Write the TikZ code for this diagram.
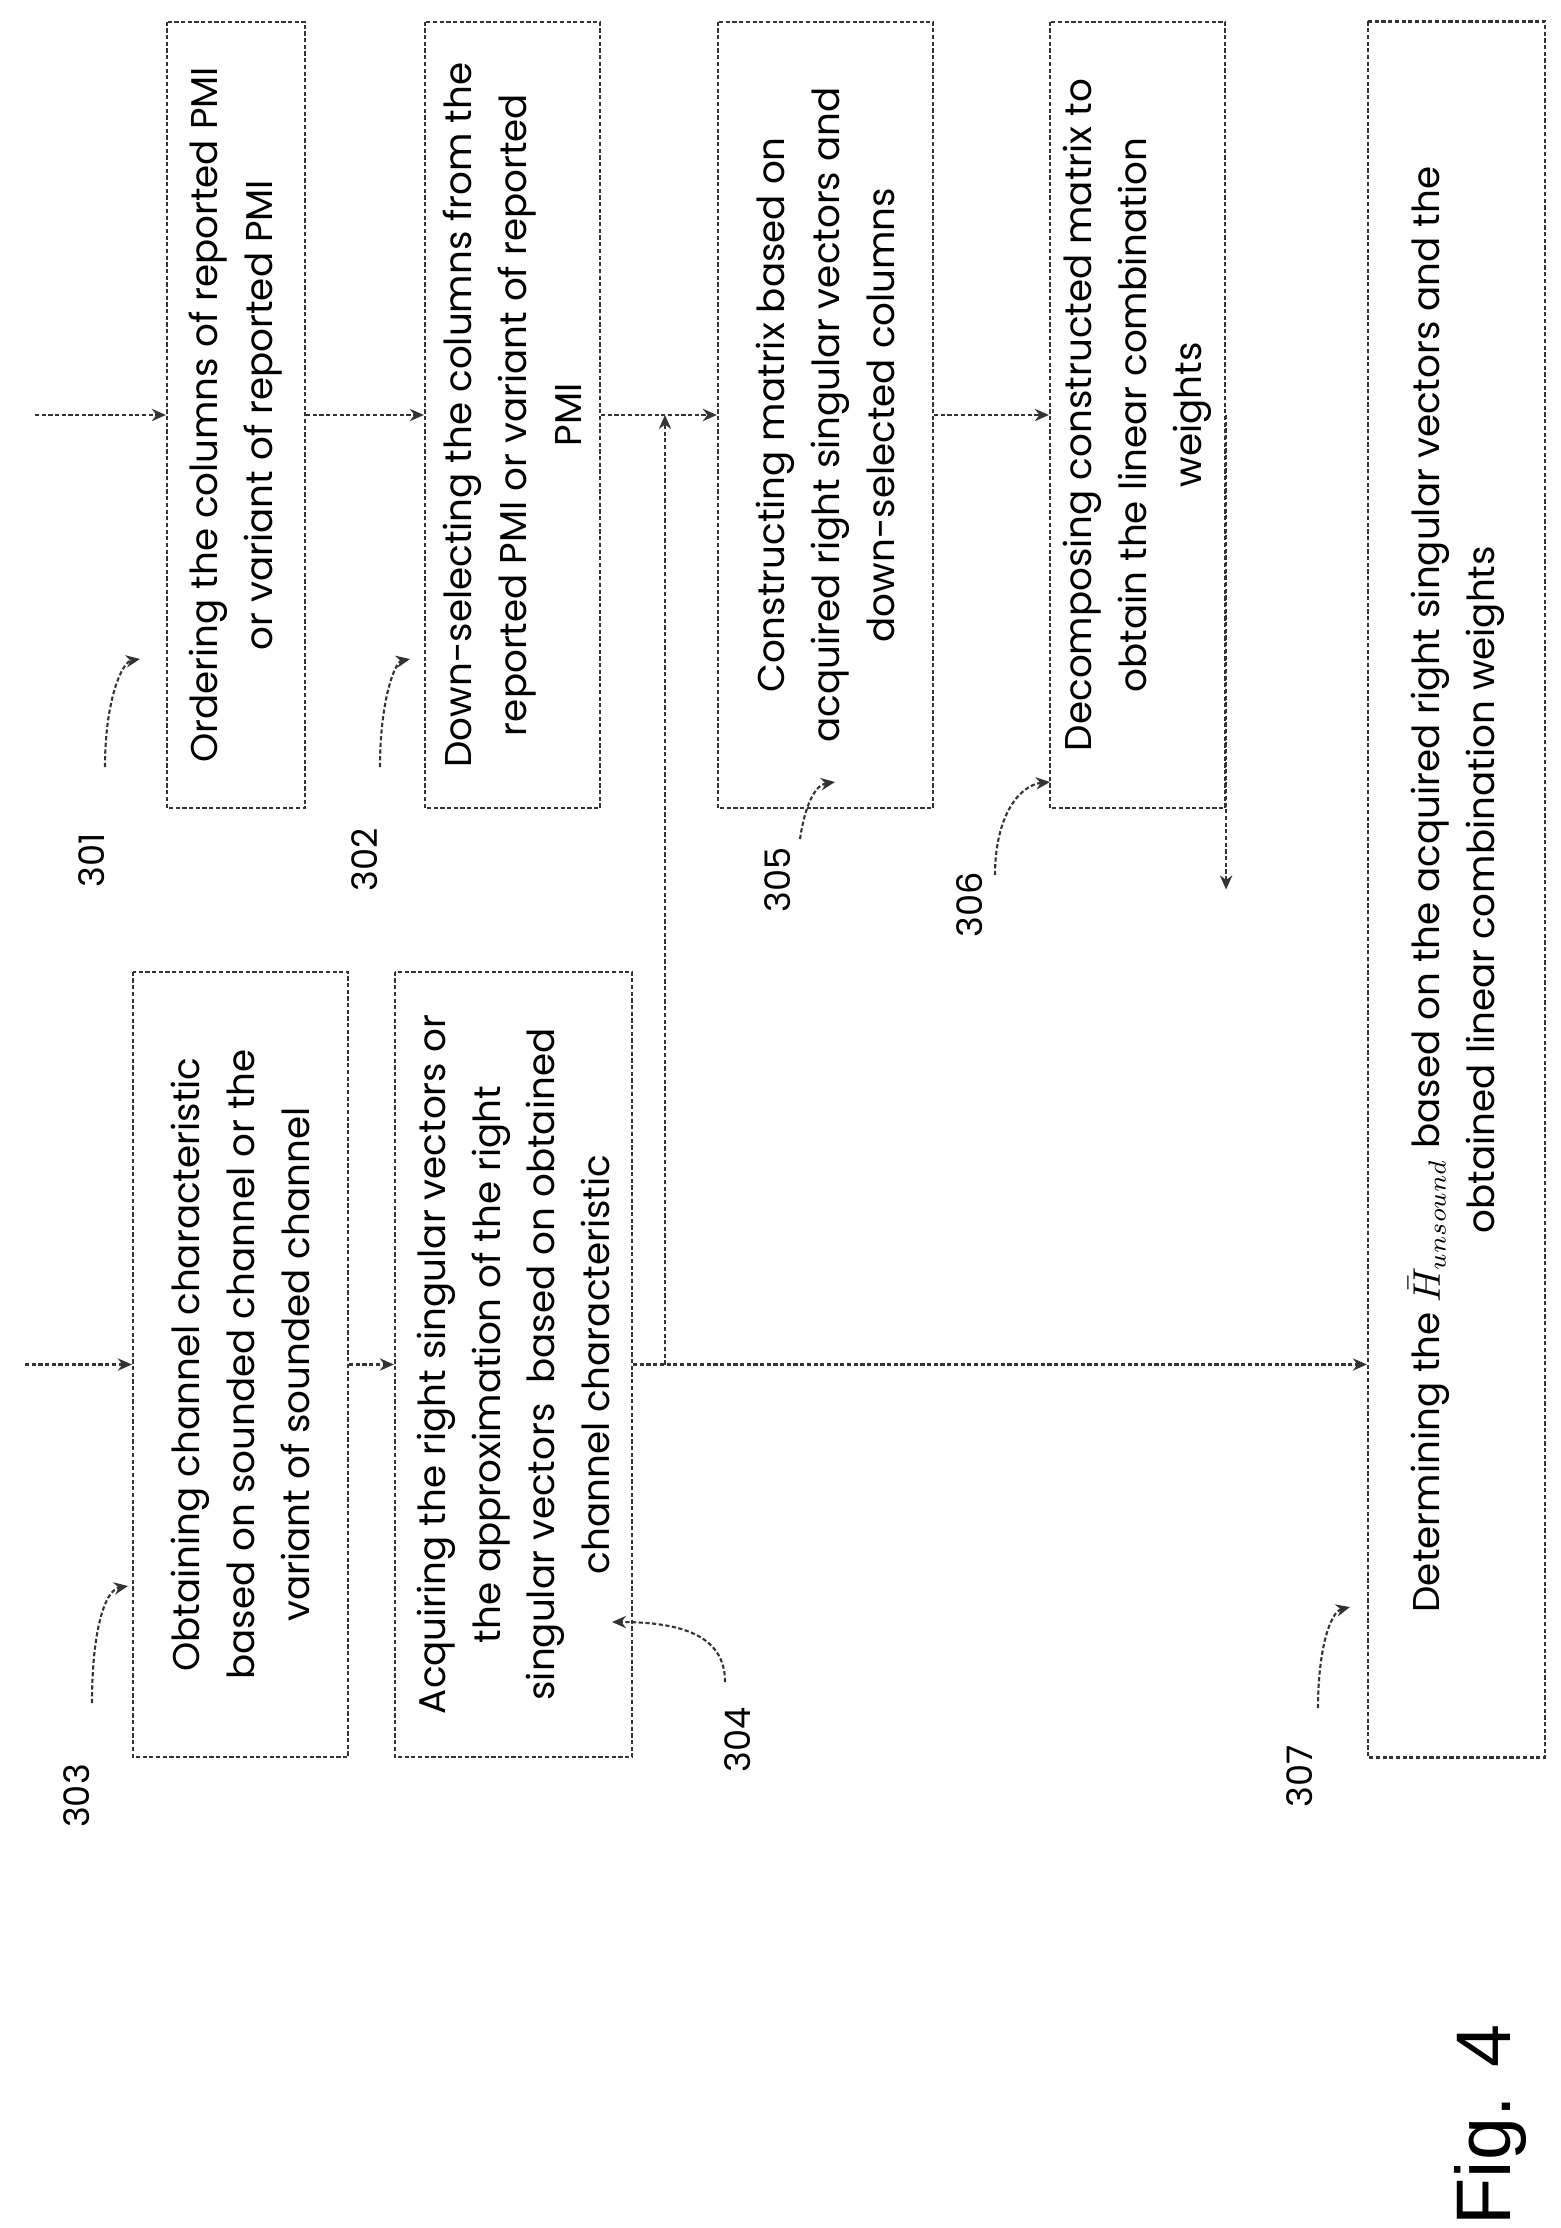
\documentclass[tikz,border=0pt]{standalone}
\usepackage{amsmath}
\usepackage{fontspec}
\setmainfont{Poppins}
\newfontfamily\figfont{Liberation Sans}
\usetikzlibrary{arrows.meta}

\begin{document}
\begin{tikzpicture}[x=0.01cm, y=-0.01cm,
    box/.style={draw=black!80, line width=0.6pt, dash pattern=on 1.2pt off 0.7pt, rotate=90, align=center,
      inner sep=2pt, font=\fontsize{10.6}{15.6}\selectfont},
    lbl/.style={rotate=90, font=\fontsize{10}{12}\selectfont},
    link/.style={draw=black!80, line width=0.6pt, dash pattern=on 1.2pt off 0.7pt, -{Stealth[length=4pt,width=3.5pt]}}]
  \useasboundingbox (0,0) rectangle (1560,2228);
  % left column
  \node[box, minimum width=7.85cm, minimum height=2.15cm] (s303) at (240.5,1364.5)
    {Obtaining channel characteristic\\ based on sounded channel or the\\ variant of sounded channel};
  \node[box, minimum width=7.85cm, minimum height=2.37cm] (s304) at (513.5,1364.5)
    {Acquiring the right singular vectors or\\ the approximation of the right\\ singular vectors\ \ based on obtained\\ channel characteristic};
  % right column
  \node[box, minimum width=7.86cm, minimum height=1.38cm] (s301) at (236,415)
    {Ordering the columns of reported PMI\\ or variant of reported PMI};
  \node[box, minimum width=7.86cm, minimum height=1.75cm] (s302) at (512.5,415)
    {Down-selecting the columns from the\\ reported PMI or variant of reported\\ PMI};
  \node[box, minimum width=7.86cm, minimum height=2.15cm] (s305) at (825.5,415)
    {Constructing matrix based on\\ acquired right singular vectors and\\ down-selected columns};
  \node[box, minimum width=7.86cm, minimum height=1.75cm] (s306) at (1137.5,415)
    {Decomposing constructed matrix to\\ obtain the linear combination\\ weights};
  \node[box, minimum width=17.35cm, minimum height=1.77cm] (s307) at (1456.5,889.5)
    {Determining the $\bar{H}_{unsound}$ based on the acquired right singular vectors and the\\ obtained linear combination weights};
  % connectors
  \coordinate (inL) at (25,1364.5);
  \coordinate (inR) at (35,415);
  \coordinate (br) at (665,1364.5);
  \draw[link] (inL) -- (s303.north);
  \draw[link] (inR) -- (s301.north);
  \draw[link] (s303.south) -- (s304.north);
  \draw[link] (s301.south) -- (s302.north);
  \draw[link] (s302.south) -- (s305.north);
  \draw[link] (s305.south) -- (s306.north);
  \draw[link] (s306.south) -- (s307.north -| s306.south);
  \draw[link] (s304.south) -- (s304.south -| s307.north);
  \draw[link] (br) -- (br |- s302.south);
  % reference numerals
  \foreach \nm/\lx/\ly/\sx/\sy/\ax/\ay/\bx/\by/\tx/\ty in {
      301/92/860/105/767/105/700/122/662/140/659,
      302/365/860/380/767/380/700/395/662/410/659,
      305/778/880/800/839/805/805/815/785/835/782,
      306/970/905/995/875/995/815/1020/785/1050/782,
      303/77/1796/92/1703/92/1630/105/1590/128/1586,
      304/738/1740/725/1682/725/1640/690/1622/612/1622,
      307/1300/1776/1318/1708/1318/1650/1330/1612/1350/1607}{
    \node[lbl] (n\nm) at (\lx,\ly) {\nm};
    \coordinate (t\nm) at (\tx,\ty);
    \draw[link] (\sx,\sy) .. controls (\ax,\ay) and (\bx,\by) .. (t\nm);
  }
  \node[rotate=90, font=\figfont\fontsize{22}{26}\selectfont] (fig) at (1490,2125) {Fig. 4};
\end{tikzpicture}
\end{document}
